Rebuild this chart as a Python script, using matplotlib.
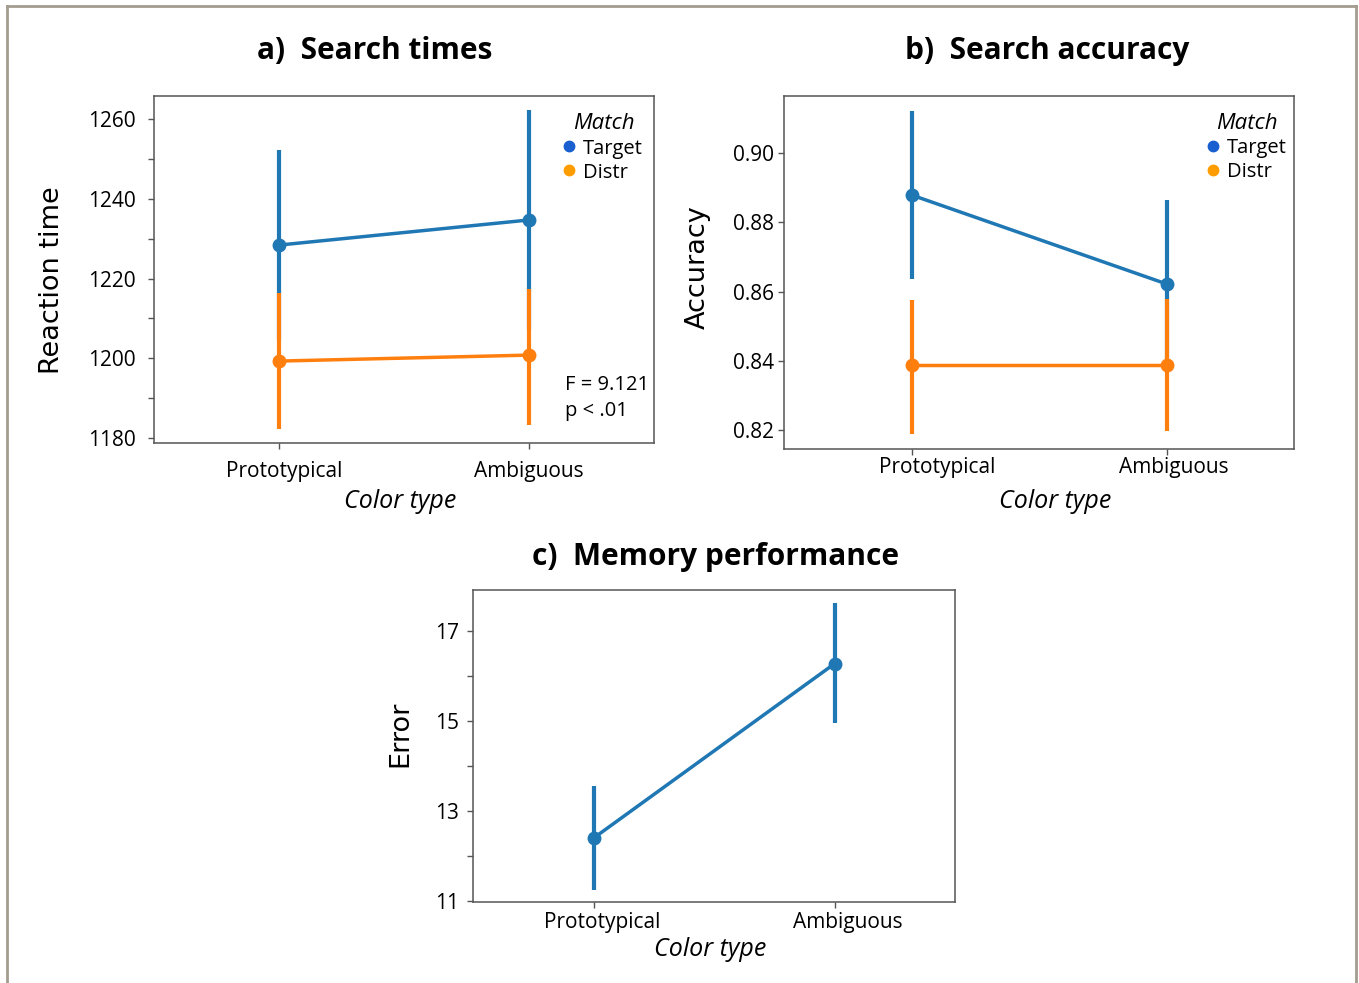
#!/usr/bin/env python3
"""Search times, search accuracy and memory performance by color type."""

import matplotlib

matplotlib.use("Agg")
import matplotlib.pyplot as plt
import matplotlib.transforms as mtransforms
from matplotlib.lines import Line2D
from matplotlib.ticker import FixedLocator

W, H = 1359, 983
DPI = 100

BLUE = "#1f77b4"
ORANGE = "#ff7f0e"
LEG_BLUE = "#1a5fd0"
LEG_ORANGE = "#ff9c00"
FRAME = "#a39d8f"

categories = ["Prototypical", "Ambiguous"]
match_labels = ["Target", "Distr"]

# a) search times (ms)
rt_target = [1228.4, 1234.7]
rt_target_lo = [1204.5, 1207.0]
rt_target_hi = [1252.2, 1262.3]
rt_distr = [1199.3, 1200.8]
rt_distr_lo = [1182.3, 1183.2]
rt_distr_hi = [1216.5, 1217.5]

# b) search accuracy
acc_target = [0.8879, 0.8622]
acc_target_lo = [0.8636, 0.8380]
acc_target_hi = [0.9121, 0.8864]
acc_distr = [0.8388, 0.8388]
acc_distr_lo = [0.8189, 0.8198]
acc_distr_hi = [0.8576, 0.8578]

# c) memory performance
mem_error = [12.4, 16.28]
mem_error_lo = [11.25, 14.96]
mem_error_hi = [13.55, 17.63]

stats_text = "F = 9.121\np < .01"


def px_rect(left, top, right, bottom):
    return [left / W, 1 - bottom / H, (right - left) / W, (bottom - top) / H]


def point_series(ax, means, lo, hi, color):
    x = list(range(len(means)))
    yerr = [[m - l for m, l in zip(means, lo)], [h - m for m, h in zip(means, hi)]]
    ax.errorbar(x, means, yerr=yerr, fmt="-o", color=color, lw=2.5, ms=9,
                elinewidth=3.0, capsize=0, zorder=3)


def style_axes(fig, ax, xpad, ypad, label_shift):
    for sp in ax.spines.values():
        sp.set_color("#555555")
        sp.set_linewidth(1.1)
    ax.set_xlim(-0.5, 1.5)
    ax.set_xticks([0, 1])
    ax.set_xticklabels(categories, fontsize=15, family="Open Sans")
    ax.tick_params(axis="x", length=4, width=1, color="#555555", pad=xpad)
    ax.tick_params(axis="y", which="major", length=4, width=1, color="#555555",
                   pad=ypad, labelsize=15)
    ax.tick_params(axis="y", which="minor", length=4, width=1, color="#555555")
    for lab in ax.get_yticklabels():
        lab.set_family("Open Sans")
    # the category labels sit a little right of their ticks in the original
    for lab, dx in zip(ax.get_xticklabels(), label_shift):
        offset = mtransforms.ScaledTranslation(dx / DPI, 0, fig.dpi_scale_trans)
        lab.set_transform(lab.get_transform() + offset)


def add_legend(ax, x, y):
    handles = [
        Line2D([], [], ls="none", marker="o", ms=7.5, color=LEG_BLUE),
        Line2D([], [], ls="none", marker="o", ms=7.5, color=LEG_ORANGE),
    ]
    leg = ax.legend(handles, match_labels, title="Match", loc="upper left",
                    bbox_to_anchor=(x, y), frameon=False, handlelength=0.5,
                    handletextpad=0.45, borderaxespad=0, borderpad=0,
                    labelspacing=0.2, prop={"family": "Open Sans", "size": 14.5},
                    title_fontproperties={"family": "Open Sans", "style": "italic",
                                          "size": 16})
    leg._legend_box.align = "center"
    leg._legend_box.sep = 3
    return leg


def main():
    fig = plt.figure(figsize=(W / DPI, H / DPI), dpi=DPI)

    # panel a
    ax_a = fig.add_axes(px_rect(154, 96, 654, 443))
    point_series(ax_a, rt_target, rt_target_lo, rt_target_hi, BLUE)
    point_series(ax_a, rt_distr, rt_distr_lo, rt_distr_hi, ORANGE)
    ax_a.set_ylim(1178.75, 1265.8)
    ax_a.set_yticks([1180, 1200, 1220, 1240, 1260])
    ax_a.yaxis.set_minor_locator(FixedLocator([1190, 1210, 1230, 1250]))
    style_axes(fig, ax_a, 9, 9, [5, 0])
    add_legend(ax_a, 0.82, 0.95)
    ax_a.text(0.822, 0.197, stats_text, transform=ax_a.transAxes, fontsize=14.5,
              family="Open Sans", va="top", ha="left", linespacing=1.4)

    # panel b
    ax_b = fig.add_axes(px_rect(784, 96, 1294, 449))
    point_series(ax_b, acc_target, acc_target_lo, acc_target_hi, BLUE)
    point_series(ax_b, acc_distr, acc_distr_lo, acc_distr_hi, ORANGE)
    ax_b.set_ylim(0.8145, 0.9165)
    ax_b.set_yticks([0.82, 0.84, 0.86, 0.88, 0.90])
    ax_b.set_yticklabels(["0.82", "0.84", "0.86", "0.88", "0.90"])
    style_axes(fig, ax_b, 2, 3, [26, 7])
    add_legend(ax_b, 0.831, 0.951)

    # panel c
    ax_c = fig.add_axes(px_rect(473, 590, 955, 902))
    point_series(ax_c, mem_error, mem_error_lo, mem_error_hi, BLUE)
    ax_c.set_ylim(10.98, 17.92)
    ax_c.set_yticks([11, 13, 15, 17])
    ax_c.yaxis.set_minor_locator(FixedLocator([12, 14, 16]))
    style_axes(fig, ax_c, 3, 6, [9, 13])

    # titles
    title_kw = dict(fontsize=21.5, fontweight="bold", family="Open Sans",
                    ha="center", va="center")
    fig.text(375 / W, 1 - 51 / H, "a)  Search times", **title_kw)
    fig.text(1047 / W, 1 - 51 / H, "b)  Search accuracy", **title_kw)
    fig.text(716 / W, 1 - 557 / H, "c)  Memory performance", **title_kw)

    # axis labels
    ylab_kw = dict(fontsize=19.5, family="DejaVu Sans", rotation=90,
                   ha="center", va="center")
    fig.text(52 / W, 1 - 280 / H, "Reaction time", **ylab_kw)
    fig.text(698 / W, 1 - 267 / H, "Accuracy", **ylab_kw)
    fig.text(400 / W, 1 - 734 / H, "Error", **ylab_kw)

    xlab_kw = dict(fontsize=18, family="Open Sans", style="italic",
                   ha="center", va="center")
    fig.text(400 / W, 1 - 502 / H, "Color type", **xlab_kw)
    fig.text(1055 / W, 1 - 502 / H, "Color type", **xlab_kw)
    fig.text(710 / W, 1 - 950 / H, "Color type", **xlab_kw)

    # outer frame (open at the bottom)
    x0, x1, y1 = 7 / W, 1356 / W, 1 - 6 / H
    for xs, ys in [([x0, x0], [0, y1]), ([x0, x1], [y1, y1]), ([x1, x1], [y1, 0])]:
        fig.add_artist(Line2D(xs, ys, transform=fig.transFigure, color=FRAME, lw=2))

    fig.savefig("out.png", dpi=DPI)


if __name__ == "__main__":
    main()
